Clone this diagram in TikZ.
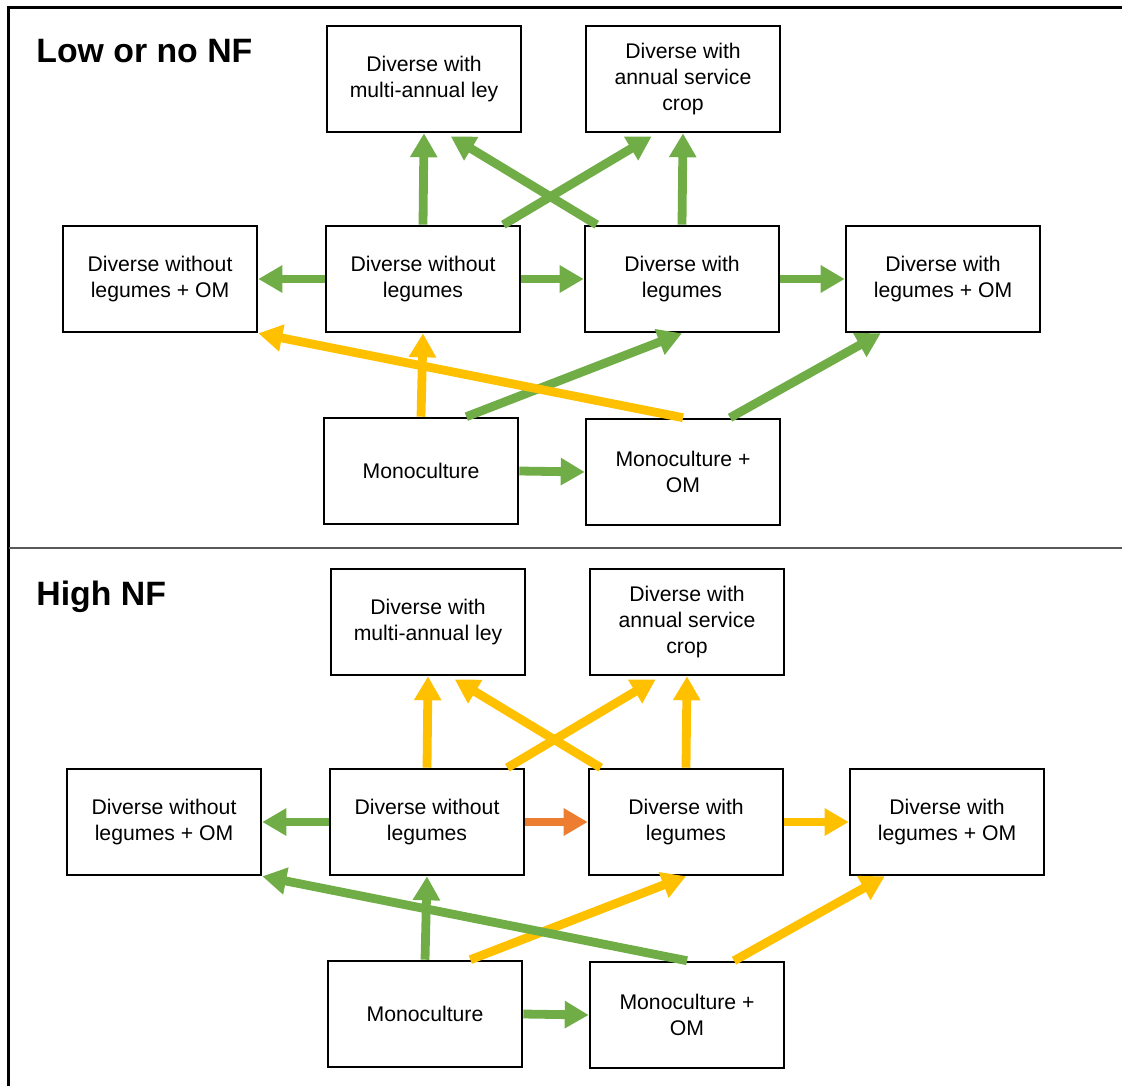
\documentclass[tikz,border=0pt]{standalone}
\usepackage{fontspec}
\setmainfont{Liberation Sans}
\usetikzlibrary{arrows.meta}
\definecolor{grn}{HTML}{70AD47}
\definecolor{ylw}{HTML}{FFC000}
\definecolor{org}{HTML}{ED7D31}
\tikzset{
  box/.style={draw, line width=1.3pt, minimum width=97pt, minimum height=53pt,
    align=center, inner sep=2pt, font=\fontsize{10.6}{13}\selectfont},
  paneltitle/.style={anchor=base west, inner sep=0pt, font=\fontsize{16.9}{20}\selectfont\bfseries},
  link/.style={line width=4.4pt, -{Triangle[length=12pt,width=13pt]}}
}
\begin{document}
\begin{tikzpicture}[x=0.5pt,y=-0.5pt]
\useasboundingbox (0,0) rectangle (1122,1086);
% frame and separator
\draw[line width=1.5pt] (8,1086) -- (8,8) -- (1122,8);
\draw[line width=1pt,black!65] (9,548) -- (1122,548);
% Top panel: low or no NF
\begin{scope}[name prefix=lo-]
\node[paneltitle] (title) at (36,62) {Low or no NF};
\node[box] (ley) at (424,79) {Diverse with\\multi-annual ley};
\node[box] (svc) at (683,79) {Diverse with\\annual service\\crop};
\node[box] (dwoom) at (160,279) {Diverse without\\legumes + OM};
\node[box] (dwo) at (423,279) {Diverse without\\legumes};
\node[box] (dwl) at (682,279) {Diverse with\\legumes};
\node[box] (dwlom) at (943,279) {Diverse with\\legumes + OM};
\node[box] (mono) at (421,471) {Monoculture};
\node[box] (monoom) at (683,472) {Monoculture +\\OM};
% links
\draw[link,grn] (dwo.north) -- (ley.south);
\draw[link,grn] ([xshift=6.5pt]dwl.north west) -- ([xshift=62.5pt,yshift=-1.5pt]ley.south west);
\draw[link,grn] ([xshift=-9pt]dwo.north east) -- ([xshift=33.5pt,yshift=-1.5pt]svc.south west);
\draw[link,grn] (dwl.north) -- (svc.south);
\draw[link,grn] (dwo.west) -- (dwoom.east);
\draw[link,grn] (dwo.east) -- (dwl.west);
\draw[link,grn] (dwl.east) -- (dwlom.west);
\draw[link,ylw] (mono.north) -- (dwo.south);
\draw[link,grn] ([xshift=-26.5pt]mono.north east) -- (dwl.south);
\draw[link,ylw] (monoom.north) -- (dwoom.south east);
\draw[link,grn] ([xshift=23.5pt]monoom.north) -- ([xshift=18pt]dwlom.south west);
\draw[link,grn] (mono.east) -- (monoom.west);
\end{scope}
% Bottom panel: high NF
\begin{scope}[shift={(4,543)},name prefix=hi-]
\node[paneltitle] (title) at (32,62) {High NF};
\node[box] (ley) at (424,79) {Diverse with\\multi-annual ley};
\node[box] (svc) at (683,79) {Diverse with\\annual service\\crop};
\node[box] (dwoom) at (160,279) {Diverse without\\legumes + OM};
\node[box] (dwo) at (423,279) {Diverse without\\legumes};
\node[box] (dwl) at (682,279) {Diverse with\\legumes};
\node[box] (dwlom) at (943,279) {Diverse with\\legumes + OM};
\node[box] (mono) at (421,471) {Monoculture};
\node[box] (monoom) at (683,472) {Monoculture +\\OM};
% links
\draw[link,ylw] (dwo.north) -- (ley.south);
\draw[link,ylw] ([xshift=6.5pt]dwl.north west) -- ([xshift=62.5pt,yshift=-1.5pt]ley.south west);
\draw[link,ylw] ([xshift=-9pt]dwo.north east) -- ([xshift=33.5pt,yshift=-1.5pt]svc.south west);
\draw[link,ylw] (dwl.north) -- (svc.south);
\draw[link,grn] (dwo.west) -- (dwoom.east);
\draw[link,org] (dwo.east) -- (dwl.west);
\draw[link,ylw] (dwl.east) -- (dwlom.west);
\draw[link,grn] (mono.north) -- (dwo.south);
\draw[link,ylw] ([xshift=-26.5pt]mono.north east) -- (dwl.south);
\draw[link,grn] (monoom.north) -- (dwoom.south east);
\draw[link,ylw] ([xshift=23.5pt]monoom.north) -- ([xshift=18pt]dwlom.south west);
\draw[link,grn] (mono.east) -- (monoom.west);
\end{scope}
\end{tikzpicture}
\end{document}
